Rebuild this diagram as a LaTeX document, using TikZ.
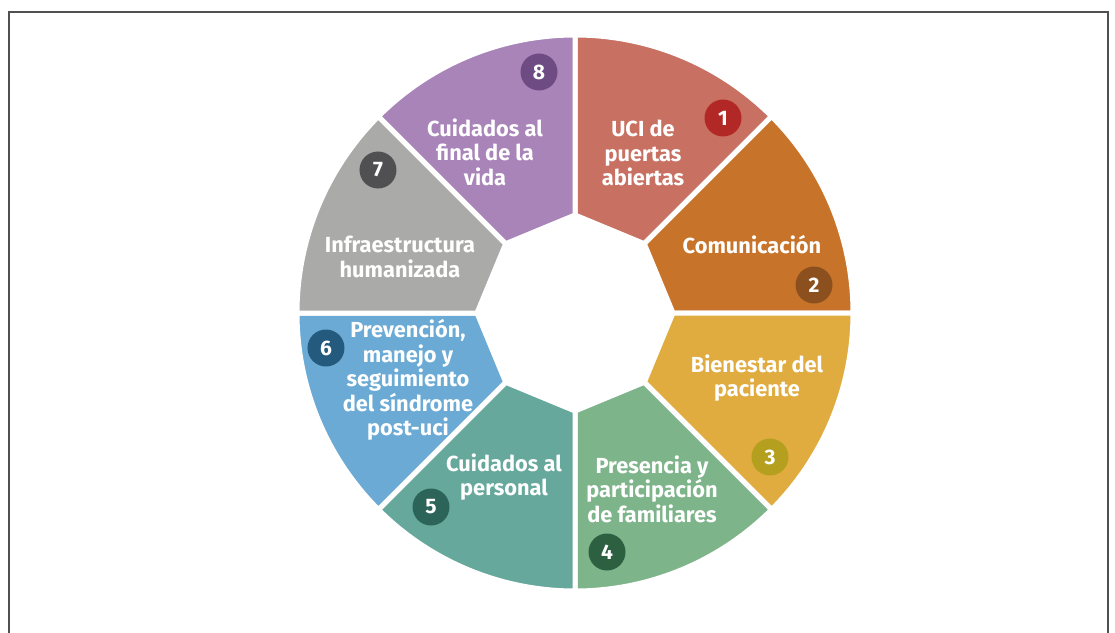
\documentclass[tikz,border=0pt]{standalone}
\usepackage{fontspec}
\setmainfont{Fira Sans}
\usepackage{tikz}
\usetikzlibrary{positioning}

\definecolor{framegray}{HTML}{505050}
\definecolor{segA}{HTML}{C87062}
\definecolor{segB}{HTML}{C7742A}
\definecolor{segC}{HTML}{E0AC40}
\definecolor{segD}{HTML}{7EB48A}
\definecolor{segE}{HTML}{66A89C}
\definecolor{segF}{HTML}{6BAAD4}
\definecolor{segG}{HTML}{AAAAA8}
\definecolor{segH}{HTML}{A884B8}
\definecolor{dotA}{HTML}{B22826}
\definecolor{dotB}{HTML}{8C501E}
\definecolor{dotC}{HTML}{B4A01E}
\definecolor{dotD}{HTML}{2D5F41}
\definecolor{dotE}{HTML}{2D645A}
\definecolor{dotF}{HTML}{235A7D}
\definecolor{dotG}{HTML}{505052}
\definecolor{dotH}{HTML}{6E4B82}

\tikzstyle{segtext}=[text=white, align=center, inner sep=1pt,
  font=\bfseries\fontsize{21.8}{24.5}\selectfont]
\tikzstyle{badge}=[circle, minimum size=37pt, inner sep=0pt, text=white,
  font=\bfseries\fontsize{21}{21}\selectfont]

\begin{document}
\begin{tikzpicture}[x=1pt,y=1pt]
  \useasboundingbox (-575,-319) rectangle (540,313);
  % outer frame, bottom edge falls off the page
  \draw[framegray, line width=2pt] (-566,-330) -- (-566,301) -- (533,301) -- (533,-330);

  % ring of eight pieces, clockwise from the top
  \foreach \i/\col in {1/segA,2/segB,3/segC,4/segD,5/segE,6/segF,7/segG,8/segH}{
    \pgfmathsetmacro\a{135-45*\i}
    \pgfmathsetmacro\b{90-45*\i}
    \filldraw[fill=\col, draw=white, line width=5pt, line join=miter]
      (\a:98) -- (\a:278) arc[start angle=\a, end angle=\b, radius=278] -- (\b:98) -- cycle;
  }

  % labels
  \node[segtext] (puertas) at (68,160) {UCI de\\puertas\\abiertas};
  \node[segtext] (comunic) at (177,68) {Comunicación};
  \node[segtext] (bienestar) at (182,-65) {Bienestar del\\paciente};
  \node[segtext] (familia) at (77,-176) {Presencia y\\participación\\de familiares};
  \node[segtext] (personal) at (-71,-164) {Cuidados al\\personal};
  \node[segtext] (postuci) at (-167,-67) {Prevención,\\manejo y\\seguimiento\\del síndrome\\post-uci};
  \node[segtext] (infra) at (-175,56) {Infraestructura\\humanizada};
  \node[segtext] (final) at (-90,161) {Cuidados al\\final de la\\vida};

  % numbered badges
  \node[badge, fill=dotA] (n1) at (148,195) {1};
  \node[badge, fill=dotB] (n2) at (239,28) {2};
  \node[badge, fill=dotC] (n3) at (195,-144) {3};
  \node[badge, fill=dotD] (n4) at (32,-239) {4};
  \node[badge, fill=dotE] (n5) at (-144,-194) {5};
  \node[badge, fill=dotF] (n6) at (-249,-35) {6};
  \node[badge, fill=dotG] (n7) at (-197,143) {7};
  \node[badge, fill=dotH] (n8) at (-36,241) {8};
\end{tikzpicture}
\end{document}
